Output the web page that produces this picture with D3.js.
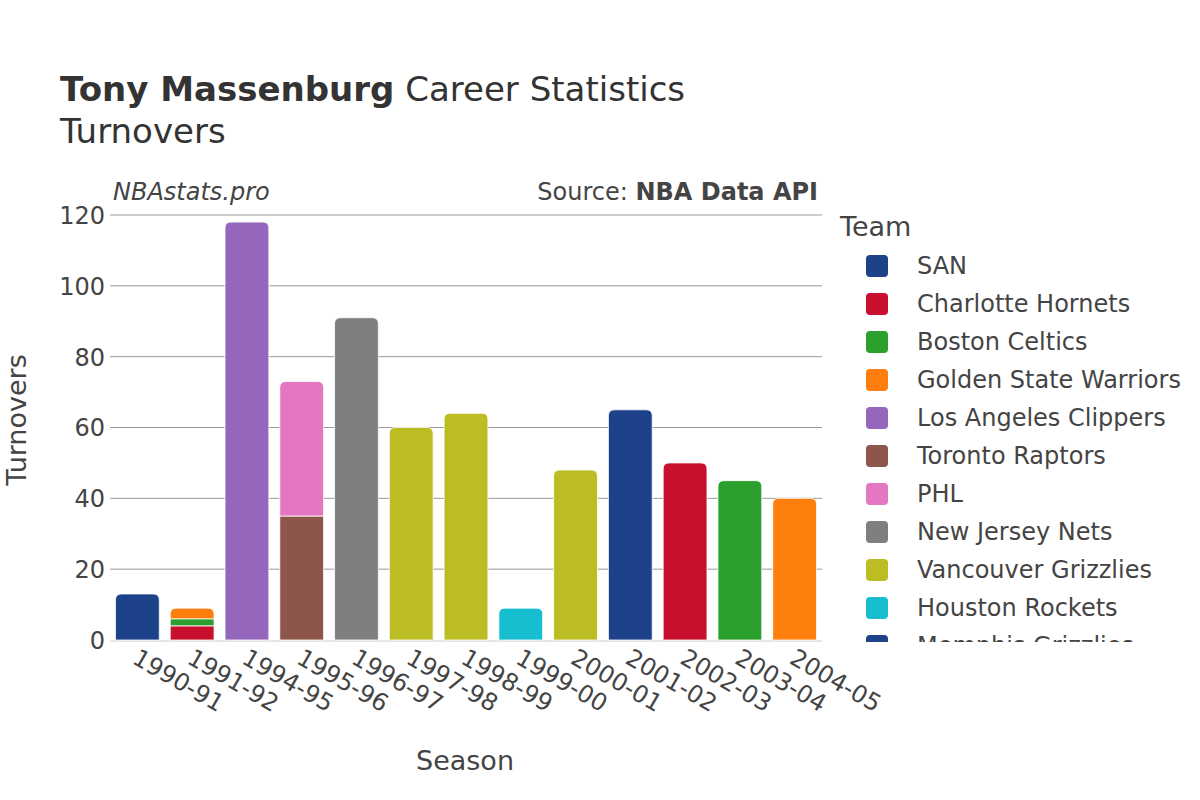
<!DOCTYPE html>
<html><head><meta charset="utf-8">
<script src="https://cdn.jsdelivr.net/npm/d3@7"></script>
<style>body{margin:0;background:#fff}svg{font-family:"DejaVu Sans",sans-serif}</style>
</head><body>
<svg id="c" width="1200" height="800"></svg>
<script>
const seasons = ["1990-91","1991-92","1994-95","1995-96","1996-97","1997-98","1998-99","1999-00","2000-01","2001-02","2002-03","2003-04","2004-05"];
const teams = ["SAN","Charlotte Hornets","Boston Celtics","Golden State Warriors","Los Angeles Clippers","Toronto Raptors","PHL","New Jersey Nets","Vancouver Grizzlies","Houston Rockets","Memphis Grizzlies","Utah Jazz","Sacramento Kings","San Antonio Spurs"];
const teamColors = ["#1d428a","#c8102e","#2ca02c","#ff7f0e","#9467bd","#8c564b","#e377c2","#7f7f7f","#bcbd22","#17becf","#1d428a","#c8102e","#2ca02c","#ff7f0e"];
// one entry per (season, team) in stacking order
const rowSeason = ["1990-91","1991-92","1991-92","1991-92","1994-95","1995-96","1995-96","1996-97","1997-98","1998-99","1999-00","2000-01","2001-02","2002-03","2003-04","2004-05"];
const rowTeam = ["SAN","Charlotte Hornets","Boston Celtics","Golden State Warriors","Los Angeles Clippers","Toronto Raptors","PHL","New Jersey Nets","Vancouver Grizzlies","Vancouver Grizzlies","Houston Rockets","Vancouver Grizzlies","Memphis Grizzlies","Utah Jazz","Sacramento Kings","San Antonio Spurs"];
const rowTurnovers = [13,4,2,3,118,35,38,91,60,64,9,48,65,50,45,40];
const yTicks = [0,20,40,60,80,100,120];

const svg = d3.select("#c");
const color = d3.scaleOrdinal().domain(teams).range(teamColors);
const x = d3.scaleBand().domain(seasons).range([110,822]).paddingInner(0.2).paddingOuter(0.1);
const y = d3.scaleLinear().domain([0,120]).range([640,215]);

// gridlines
svg.append("g").selectAll("line").data(yTicks.filter(d=>d>0)).join("line")
  .attr("x1",110).attr("x2",822).attr("y1",d=>y(d)).attr("y2",d=>y(d))
  .attr("stroke","#999").attr("stroke-width",1);
svg.append("line").attr("x1",110).attr("x2",822).attr("y1",y(0)+1).attr("y2",y(0)+1)
  .attr("stroke","#e5e5e5").attr("stroke-width",2);

// stacks
const rows = rowSeason.map((s,i)=>({season:s,team:rowTeam[i],v:rowTurnovers[i]}));
const base = {};
rows.forEach(r=>{ r.y0 = base[r.season]||0; r.y1 = r.y0 + r.v; base[r.season]=r.y1; });
rows.forEach(r=>{ r.top = r.y1 === base[r.season]; });

function barPath(r){
  const x0 = x(r.season), w = x.bandwidth();
  const yt = y(r.y1), yb = y(r.y0);
  const rad = r.top ? Math.min(6, (yb-yt)) : 0;
  if(!rad) return `M${x0},${yb}V${yt}H${x0+w}V${yb}Z`;
  return `M${x0},${yb}V${yt+rad}Q${x0},${yt} ${x0+rad},${yt}H${x0+w-rad}Q${x0+w},${yt} ${x0+w},${yt+rad}V${yb}Z`;
}
svg.append("g").selectAll("path").data(rows).join("path")
  .attr("d",barPath).attr("fill",d=>color(d.team))
  .attr("stroke","#fff").attr("stroke-width",0.8);

// y axis
const yAxis = svg.append("g").attr("transform","translate(105,0)")
  .call(d3.axisLeft(y).tickValues(yTicks).tickSize(0).tickPadding(0));
yAxis.select(".domain").remove();
yAxis.selectAll("text").attr("font-size",24).attr("fill","#444").attr("font-family","DejaVu Sans").attr("dy","0.35em");

// x axis
const xAxis = svg.append("g").attr("transform","translate(0,648)")
  .call(d3.axisBottom(x).tickSize(0).tickPadding(0));
xAxis.select(".domain").remove();
xAxis.selectAll("text").attr("font-size",24).attr("fill","#444").attr("font-family","DejaVu Sans")
  .attr("text-anchor","start").attr("y",0).attr("dy","0.7em").attr("x",0)
  .attr("transform","translate(2,0) rotate(30)");

// titles
const t = svg.append("text").attr("x",60).attr("y",101).attr("font-size",34).attr("fill","#333");
t.append("tspan").attr("font-weight","bold").text("Tony Massenburg");
t.append("tspan").text(" Career Statistics");
svg.append("text").attr("x",60).attr("y",143).attr("font-size",34).attr("fill","#333").text("Turnovers");
svg.append("text").attr("x",113).attr("y",200).attr("font-size",24).attr("font-style","italic").attr("fill","#444").text("NBAstats.pro");
const src = svg.append("text").attr("x",818).attr("y",200).attr("font-size",24).attr("text-anchor","end").attr("fill","#444");
src.append("tspan").text("Source: ");
src.append("tspan").attr("font-weight","bold").text("NBA Data API");

svg.append("text").attr("x",465).attr("y",770).attr("font-size",27).attr("text-anchor","middle").attr("fill","#444").text("Season");
svg.append("text").attr("transform","translate(26,420) rotate(-90)").attr("font-size",27).attr("text-anchor","middle").attr("fill","#444").text("Turnovers");

// legend
svg.append("text").attr("x",840).attr("y",236).attr("font-size",27).attr("fill","#444").text("Team");
svg.append("clipPath").attr("id","lc").append("rect").attr("x",830).attr("y",245).attr("width",370).attr("height",397);
const lg = svg.append("g").attr("clip-path","url(#lc)");
const li = lg.selectAll("g").data(teams).join("g").attr("transform",(d,i)=>`translate(0,${266+i*38})`);
li.append("rect").attr("x",866).attr("y",-11).attr("width",22).attr("height",22).attr("rx",4)
  .attr("fill",d=>color(d));
li.append("text").attr("x",917).attr("y",0).attr("dy","0.35em").attr("font-size",24).attr("fill","#444").text(d=>d);
</script>
</body></html>
